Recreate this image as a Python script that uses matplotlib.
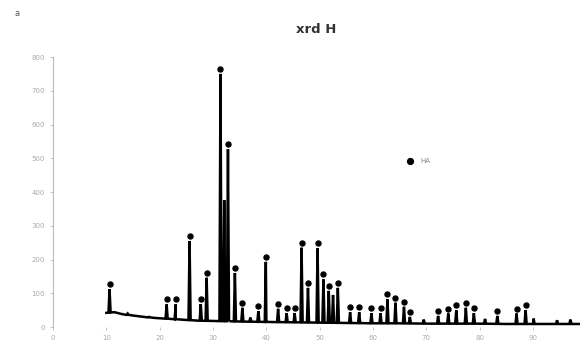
import numpy as np
import matplotlib
matplotlib.use("Agg")
import matplotlib.pyplot as plt
from matplotlib.transforms import offset_copy

# background of the trace (2theta, counts)
base_x = [10.0, 11.5, 13.0, 15.0, 17.0, 19.0, 21.0, 23.0, 25.0, 27.0, 30.0,
          33.0, 36.0, 40.0, 45.0, 50.0, 55.0, 60.0, 65.0, 70.0, 75.0, 80.0,
          85.0, 90.0, 95.0, 99.0]
base_y = [42, 44, 38, 34, 30, 27, 25, 23, 21, 19, 18,
          17, 16, 15, 14, 13, 12, 11, 11, 10, 10, 10,
          9, 9, 9, 9]

# peaks marked with a dot (HA)
ha_x = [10.6, 21.3, 23.0, 25.6, 27.7, 28.8, 31.4, 32.8, 34.1, 35.5, 38.5,
        39.9, 42.2, 43.8, 45.3, 46.6, 47.8, 49.6, 50.7, 51.7, 53.4, 55.7,
        57.4, 59.7, 61.4, 62.7, 64.2, 65.8, 66.9, 72.2, 74.1, 75.6, 77.4,
        78.9, 83.3, 86.9, 88.6]
ha_y = [112, 67, 67, 255, 68, 146, 750, 527, 160, 57, 47,
        193, 54, 41, 41, 235, 116, 233, 141, 107, 116, 44,
        44, 41, 41, 82, 72, 60, 30, 33, 40, 50, 57,
        41, 33, 40, 50]

# small peaks without a marker
other_x = [14.0, 18.0, 32.1, 37.0, 52.5, 69.5, 81.0, 90.1, 94.5, 97.0]
other_y = [40, 30, 376, 28, 95, 22, 24, 25, 20, 22]

y_ticks = [0, 100, 200, 300, 400, 500, 600, 700, 800]
x_ticks = [0, 10, 20, 30, 40, 50, 60, 70, 80, 90]

# build the trace: baseline with narrow peaks on it
px = np.array(ha_x + other_x)
py = np.array(ha_y + other_y)
tx = list(base_x)
ty = list(base_y)
for x, h in zip(px, py):
    b = np.interp(x, base_x, base_y)
    tx += [x - 0.2, x, x + 0.2]
    ty += [b, h, b]
order = np.argsort(tx)
tx = np.array(tx)[order]
ty = np.array(ty)[order]

fig = plt.figure(figsize=(5.8, 3.47), dpi=100)
ax = fig.add_axes([0.0914, 0.0576, 0.9086, 0.778])

ax.plot(tx, ty, color="black", lw=1.8, solid_joinstyle="miter")
mk = offset_copy(ax.transData, fig=fig, x=0, y=5, units="dots")
ax.plot(ha_x, ha_y, "o", color="black", ms=3.6, transform=mk,
        clip_on=False)

# legend
ax.plot([66.9], [492], "o", color="black", ms=4.2)
ax.text(68.8, 492, "HA", fontsize=5, color="#888888", va="center")

ax.set_xlim(0, 98.8)
ax.set_ylim(0, 800)
ax.set_xticks(x_ticks)
ax.set_yticks(y_ticks)
ax.tick_params(labelsize=5, colors="#aaaaaa", length=2, width=0.5, pad=4)
for s in ["top", "right", "bottom"]:
    ax.spines[s].set_visible(False)
ax.spines["left"].set_color("#bbbbbb")
ax.spines["left"].set_linewidth(0.8)

fig.text(0.545, 0.914, "xrd H", fontsize=9.5, fontweight="bold",
         color="#333333", ha="center", va="center")
fig.text(0.03, 0.96, "a", fontsize=6, color="#555555", ha="center",
         va="center")

fig.savefig("out.png", dpi=100)
